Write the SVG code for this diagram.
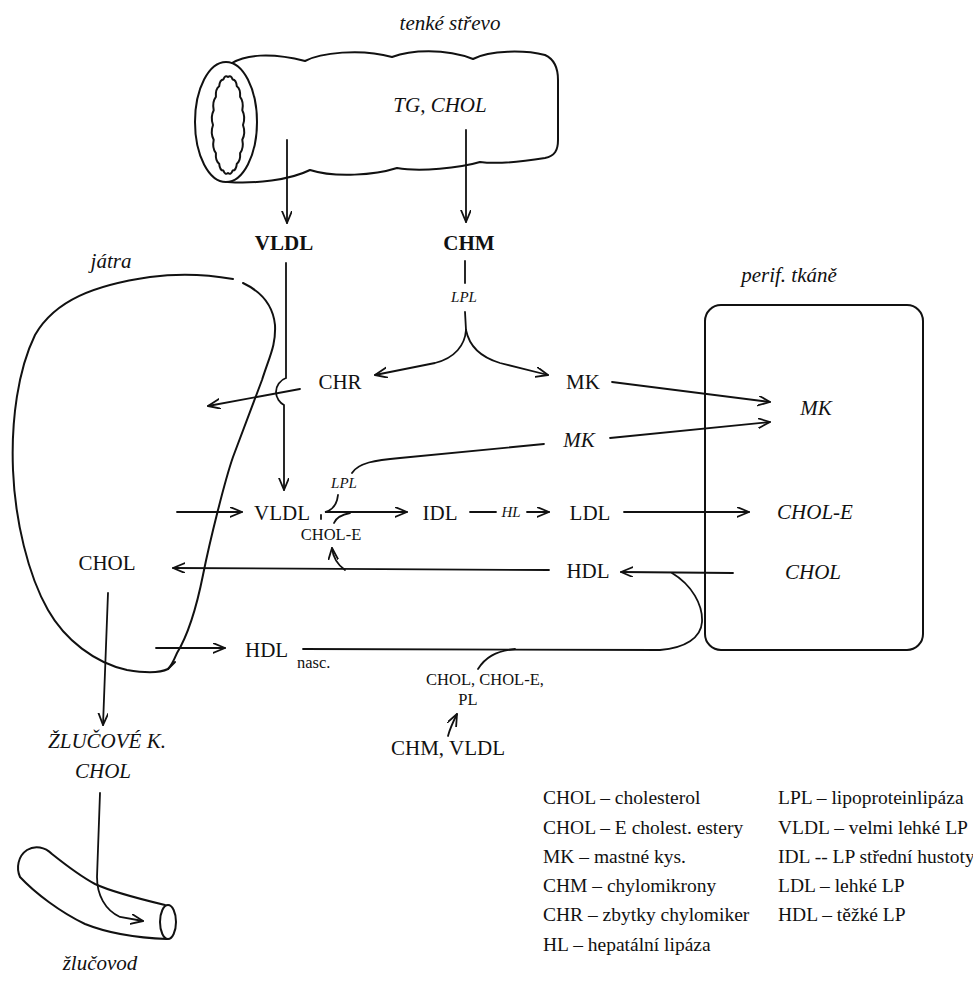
<svg xmlns="http://www.w3.org/2000/svg" width="973" height="989" viewBox="0 0 973 989">
<defs>
<marker id="ah" markerUnits="userSpaceOnUse" markerWidth="14" markerHeight="12" refX="12" refY="5" orient="auto">
<path d="M0,0 L12,5 L0,10" fill="none" stroke="#111" stroke-width="1.8" stroke-linecap="round" stroke-linejoin="round"/>
</marker>
</defs>
<style>
.bg{fill:#fff}
.ol{fill:none;stroke:#111;stroke-width:2;stroke-linecap:round;stroke-linejoin:round}
.ln{fill:none;stroke:#111;stroke-width:1.8;stroke-linecap:round}
.ar{fill:none;stroke:#111;stroke-width:1.8;stroke-linecap:round;marker-end:url(#ah)}
text{font-family:"Liberation Serif","Times New Roman",serif;fill:#111}
.t{font-size:21px}
.tb{font-size:21px;font-weight:bold}
.ti{font-size:21px;font-style:italic}
.si{font-size:15px;font-style:italic}
.s{font-size:16.5px}
.lg{font-size:19.5px}
</style>
<rect class="bg" x="0" y="0" width="973" height="989"/>

<g id="intestine">
<path class="ol" d="M 232 63 C 245 55, 270 52, 305 61 C 320 53, 360 48, 392 57 C 410 50, 445 48, 473 59 C 490 50, 525 50, 545 55 C 556 60, 558 70, 558 80 L 558 140 C 558 150, 555 156, 545 158 C 520 162, 495 164, 480 162 C 460 168, 420 172, 397 168 C 375 175, 335 178, 310 170 C 290 180, 255 184, 228 182"/>
<ellipse class="ol" cx="226" cy="122" rx="31" ry="60"/>
<path class="ol" stroke-width="1.6" d="M 243 125 Q 245.8 133 242.3 139.8 Q 244 148.2 240.1 153.2 Q 240.7 161.1 236.8 163.8 Q 236.2 170.4 232.6 170.6 Q 230.8 175.4 228 173 Q 225.2 175.4 223.4 170.6 Q 219.8 170.4 219.2 163.8 Q 215.3 161.1 215.9 153.2 Q 212 148.2 213.7 139.8 Q 210.2 133 213 125 Q 210.2 117 213.7 110.2 Q 212 101.8 215.9 96.8 Q 215.3 88.9 219.2 86.2 Q 219.8 79.6 223.4 79.4 Q 225.2 74.6 228 77 Q 230.8 74.6 232.6 79.4 Q 236.2 79.6 236.8 86.2 Q 240.7 88.9 240.1 96.8 Q 244 101.8 242.3 110.2 Q 245.8 117 243 125 Z"/>
<text class="ti" x="450" y="30" text-anchor="middle">tenké střevo</text>
<text class="ti" x="440" y="112" text-anchor="middle">TG, CHOL</text>
</g>

<g id="liver">
<path class="ol" d="M 243 283 C 262 292, 273 305, 275 325 C 276 345, 270 355, 262 380 L 233 457 C 225 480, 210 540, 203 575 C 197 605, 188 635, 177 653 C 174 660, 172 665, 168 669 C 160 673, 145 673, 127 670 C 95 663, 65 640, 48 610 C 28 575, 15 520, 13 470 C 11 420, 18 370, 35 335 C 55 300, 95 285, 150 277 C 180 273, 205 274, 233 279"/>
<path class="ol" d="M 168 669 L 175 662"/>
<text class="ti" x="111" y="268" text-anchor="middle" font-size="20">játra</text>
</g>

<g id="periphery">
<rect class="ol" x="705" y="305" width="218" height="345" rx="16"/>
<text class="ti" x="789" y="282" text-anchor="middle">perif. tkáně</text>
</g>

<g id="bileduct">
<path class="ol" d="M 165 905 C 140 899, 112 892, 95 884 C 80 876, 62 862, 52 854 C 45 847, 35 845, 27 850 C 18 856, 16 868, 20 877 C 35 893, 60 912, 85 924 C 110 934, 140 938, 167 939"/>
<ellipse class="ol" cx="168" cy="922" rx="8" ry="17"/>
<text class="ti" x="100" y="970" text-anchor="middle">žlučovod</text>
</g>

<g id="n-vldl-top"><text class="tb" x="284" y="250" text-anchor="middle">VLDL</text></g>
<g id="n-chm"><text class="tb" x="469" y="250" text-anchor="middle">CHM</text></g>
<g id="n-chr"><text class="t" x="340" y="389" text-anchor="middle" font-size="22">CHR</text></g>
<g id="n-mk"><text class="t" x="583" y="389" text-anchor="middle" font-size="22">MK</text></g>
<g id="n-mk-mid"><text class="ti" x="579" y="447" text-anchor="middle">MK</text></g>
<g id="n-mk-perif"><text class="ti" x="816" y="415" text-anchor="middle">MK</text></g>
<g id="n-vldl"><text class="t" x="282" y="520" text-anchor="middle">VLDL</text></g>
<g id="n-idl"><text class="t" x="440" y="520" text-anchor="middle">IDL</text></g>
<g id="n-ldl"><text class="t" x="590" y="520" text-anchor="middle">LDL</text></g>
<g id="n-chole-perif"><text class="ti" x="815" y="519" text-anchor="middle">CHOL-E</text></g>
<g id="n-chole"><text class="s" x="331" y="540" text-anchor="middle">CHOL-E</text></g>
<g id="n-chol-liver"><text class="t" x="107" y="570" text-anchor="middle">CHOL</text></g>
<g id="n-hdl"><text class="t" x="588" y="578" text-anchor="middle">HDL</text></g>
<g id="n-chol-perif"><text class="ti" x="813" y="579" text-anchor="middle">CHOL</text></g>
<g id="n-hdl-nasc"><text class="t" x="245" y="657">HDL</text><text class="s" x="297" y="668" font-size="16">nasc.</text></g>
<g id="n-cholpl"><text class="s" x="485" y="685" text-anchor="middle">CHOL, CHOL-E,</text><text class="s" x="468" y="705" text-anchor="middle">PL</text></g>
<g id="n-chmvldl"><text class="t" x="448" y="755" text-anchor="middle">CHM, VLDL</text></g>
<g id="n-zluc"><text class="ti" x="107" y="748" text-anchor="middle">ŽLUČOVÉ K.</text><text class="ti" x="103" y="778" text-anchor="middle">CHOL</text></g>

<g id="connectors">
<path class="ar" d="M 287 140 L 287 223"/>
<path class="ar" d="M 466 130 L 466 222"/>
<path class="ar" d="M 286 263 L 286 378 C 280 380, 276 386, 276 392 C 276 398, 280 403, 284 405 L 284 490"/>
<path class="ln" d="M 465 261 L 465 283"/>
<text class="si" x="464" y="302" text-anchor="middle">LPL</text>
<path class="ln" d="M 465 312 L 466 330"/>
<path class="ar" d="M 466 330 C 465 345, 455 358, 435 363 L 375 375"/>
<path class="ar" d="M 466 330 C 469 345, 480 357, 500 363 L 548 375"/>
<path class="ar" d="M 300 389 L 208 406"/>
<path class="ar" d="M 612 382 L 770 402"/>
<path class="ar" d="M 610 438 L 770 422"/>
<path class="ln" d="M 544 444 L 400 458 C 375 460, 358 463, 352 473"/>
<text class="si" x="344" y="488" text-anchor="middle">LPL</text>
<path class="ar" d="M 177 512 L 242 512"/>
<path class="ln" d="M 321 515 L 321 519"/>
<path class="ar" d="M 338 495 C 337 505, 333 510, 325 512 L 407 512"/>
<path class="ln" d="M 334 523 C 336 518, 340 515, 350 513"/>
<path class="ln" d="M 470 512 L 496 512"/>
<text class="si" x="511" y="517" text-anchor="middle" font-size="14">HL</text>
<path class="ar" d="M 527 512 L 549 512"/>
<path class="ar" d="M 624 512 L 749 512"/>
<path class="ar" d="M 549 570 L 173 568"/>
<path class="ar" d="M 345 570 C 338 565, 333 558, 332 548"/>
<path class="ar" d="M 733 573 L 621 572"/>
<path class="ln" d="M 303 649 L 660 650 C 685 648, 701 638, 702 622 C 703 605, 692 585, 672 573"/>
<path class="ar" d="M 156 648 L 225 648"/>
<path class="ln" d="M 478 669 C 485 658, 495 651, 515 649"/>
<path class="ar" d="M 448 736 C 450 728, 454 720, 457 714"/>
<path class="ar" d="M 108 593 L 103 725"/>
<path class="ar" d="M 100 793 L 97 877 C 97 895, 105 910, 120 917 L 143 921"/>
</g>

<g id="legend">
<text class="lg" x="543" y="804">CHOL – cholesterol</text>
<text class="lg" x="543" y="834">CHOL – E cholest. estery</text>
<text class="lg" x="543" y="863">MK – mastné kys.</text>
<text class="lg" x="543" y="892">CHM – chylomikrony</text>
<text class="lg" x="543" y="921">CHR – zbytky chylomiker</text>
<text class="lg" x="543" y="951">HL – hepatální lipáza</text>
<text class="lg" x="778" y="804">LPL – lipoproteinlipáza</text>
<text class="lg" x="778" y="834">VLDL – velmi lehké LP</text>
<text class="lg" x="778" y="863">IDL -- LP střední hustoty</text>
<text class="lg" x="778" y="892">LDL – lehké LP</text>
<text class="lg" x="778" y="921">HDL – těžké LP</text>
</g>
</svg>
